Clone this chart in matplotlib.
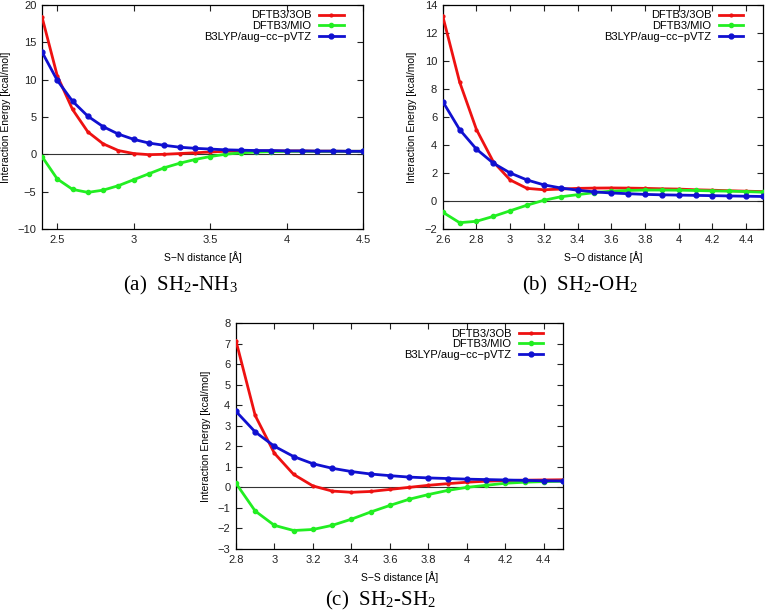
import matplotlib.pyplot as plt
from matplotlib.ticker import FuncFormatter

plt.rcParams['font.family'] = ['Liberation Sans', 'DejaVu Sans']
plt.rcParams['mathtext.fontset'] = 'stix'

labels = ['DFTB3/3OB', 'DFTB3/MIO', 'B3LYP/aug\u2212cc\u2212pVTZ']
colors = ['#ee1111', '#22ee22', '#1010d0']

# (a) SH2-NH3
x_a = [2.4, 2.5, 2.6, 2.7, 2.8, 2.9, 3.0, 3.1, 3.2, 3.3, 3.4, 3.5, 3.6, 3.7, 3.8, 3.9, 4.0, 4.1, 4.2, 4.3, 4.4, 4.5]
red_a = [18.4, 10.5, 6.0, 3.0, 1.4, 0.5, 0.1, -0.05, 0.0, 0.1, 0.2, 0.3, 0.4, 0.45, 0.45, 0.45, 0.45, 0.45, 0.42, 0.42, 0.4, 0.4]
green_a = [-0.3, -3.3, -4.7, -5.1, -4.8, -4.2, -3.4, -2.6, -1.8, -1.2, -0.7, -0.3, 0.0, 0.2, 0.3, 0.35, 0.4, 0.4, 0.4, 0.4, 0.4, 0.4]
blue_a = [13.7, 9.9, 7.1, 5.1, 3.7, 2.7, 2.0, 1.5, 1.2, 0.95, 0.8, 0.7, 0.6, 0.55, 0.5, 0.5, 0.45, 0.45, 0.42, 0.42, 0.4, 0.4]

# (b) SH2-OH2
x_b = [2.6, 2.7, 2.8, 2.9, 3.0, 3.1, 3.2, 3.3, 3.4, 3.5, 3.6, 3.7, 3.8, 3.9, 4.0, 4.1, 4.2, 4.3, 4.4, 4.5]
red_b = [13.2, 8.5, 5.1, 2.8, 1.5, 0.9, 0.8, 0.85, 0.9, 0.92, 0.93, 0.92, 0.9, 0.87, 0.85, 0.8, 0.77, 0.73, 0.7, 0.67]
green_b = [-0.8, -1.55, -1.45, -1.1, -0.7, -0.3, 0.05, 0.3, 0.45, 0.6, 0.7, 0.75, 0.78, 0.78, 0.77, 0.75, 0.72, 0.7, 0.67, 0.63]
blue_b = [7.1, 5.1, 3.7, 2.7, 2.0, 1.5, 1.15, 0.93, 0.77, 0.65, 0.57, 0.52, 0.47, 0.44, 0.42, 0.4, 0.38, 0.36, 0.34, 0.32]

# (c) SH2-SH2
x_c = [2.8, 2.9, 3.0, 3.1, 3.2, 3.3, 3.4, 3.5, 3.6, 3.7, 3.8, 3.9, 4.0, 4.1, 4.2, 4.3, 4.4, 4.5]
red_c = [7.14, 3.5, 1.66, 0.63, 0.07, -0.18, -0.24, -0.2, -0.1, 0.0, 0.1, 0.18, 0.25, 0.3, 0.33, 0.35, 0.36, 0.37]
green_c = [0.2, -1.15, -1.85, -2.1, -2.05, -1.85, -1.55, -1.2, -0.88, -0.58, -0.35, -0.15, 0.0, 0.1, 0.2, 0.25, 0.28, 0.3]
blue_c = [3.7, 2.7, 2.0, 1.5, 1.15, 0.93, 0.77, 0.65, 0.57, 0.5, 0.46, 0.43, 0.4, 0.38, 0.36, 0.34, 0.32, 0.31]

fmt = FuncFormatter(lambda v, p: ('%g' % v).replace('-', '\u2212'))


def panel(rect, x, series, xlim, ylim, xticks, yticks, xlabel, caption, cap_xy):
    ax = fig.add_axes(rect)
    ax.axhline(0, color='#333333', lw=0.8, zorder=1)
    msizes = [2, 3, 3.5]
    for ys, lab, c, ms in zip(series, labels, colors, msizes):
        ax.plot(x, ys, color=c, lw=2, marker='o', ms=ms, label=lab, zorder=3)
    ax.set_xlim(*xlim)
    ax.set_ylim(*ylim)
    ax.set_xticks(xticks)
    ax.set_yticks(yticks)
    ax.xaxis.set_major_formatter(fmt)
    ax.yaxis.set_major_formatter(fmt)
    ax.tick_params(direction='in', top=True, right=True, length=4, width=0.8,
                   labelsize=8, colors='#222222', pad=4)
    for s in ax.spines.values():
        s.set_linewidth(0.9)
    ax.set_xlabel(xlabel, fontsize=7.5, labelpad=5)
    ax.set_ylabel('Interaction Energy [kcal/mol]', fontsize=7.5, labelpad=5)
    # legend sits ~14px in from the right frame
    ax.legend(loc='upper right', bbox_to_anchor=(1 - 14 / (rect[2] * 766), 1),
              frameon=False, markerfirst=False, fontsize=8,
              labelspacing=0.05, handlelength=2.2, handletextpad=0.7,
              borderaxespad=0.3, borderpad=0.2)
    fig.text(cap_xy[0], cap_xy[1], caption, ha='center', va='center',
             fontsize=15, family=['Liberation Serif', 'DejaVu Serif'])
    return ax


fig = plt.figure(figsize=(7.66, 6.10), dpi=100)

panel([0.0548, 0.6246, 0.4192, 0.3674], x_a, [red_a, green_a, blue_a], (2.4, 4.5), (-10, 20),
      [2.5, 3, 3.5, 4, 4.5], [-10, -5, 0, 5, 10, 15, 20], 'S\u2212N distance [\u00c5]',
      r'(a)  SH$_\mathregular{2}$-NH$_\mathregular{3}$', (180 / 766, 1 - 285 / 610))

panel([0.578, 0.6246, 0.418, 0.3674], x_b, [red_b, green_b, blue_b], (2.6, 4.5), (-2, 14),
      [2.6, 2.8, 3, 3.2, 3.4, 3.6, 3.8, 4, 4.2, 4.4], [-2, 0, 2, 4, 6, 8, 10, 12, 14],
      'S\u2212O distance [\u00c5]',
      r'(b)  SH$_\mathregular{2}$-OH$_\mathregular{2}$', (580 / 766, 1 - 285 / 610))

panel([0.308, 0.1, 0.427, 0.3705], x_c, [red_c, green_c, blue_c], (2.8, 4.5), (-3, 8),
      [2.8, 3, 3.2, 3.4, 3.6, 3.8, 4, 4.2, 4.4], list(range(-3, 9)),
      'S\u2212S distance [\u00c5]',
      r'(c)  SH$_\mathregular{2}$-SH$_\mathregular{2}$', (381 / 766, 1 - 600 / 610))

fig.savefig('out.png', dpi=100)
